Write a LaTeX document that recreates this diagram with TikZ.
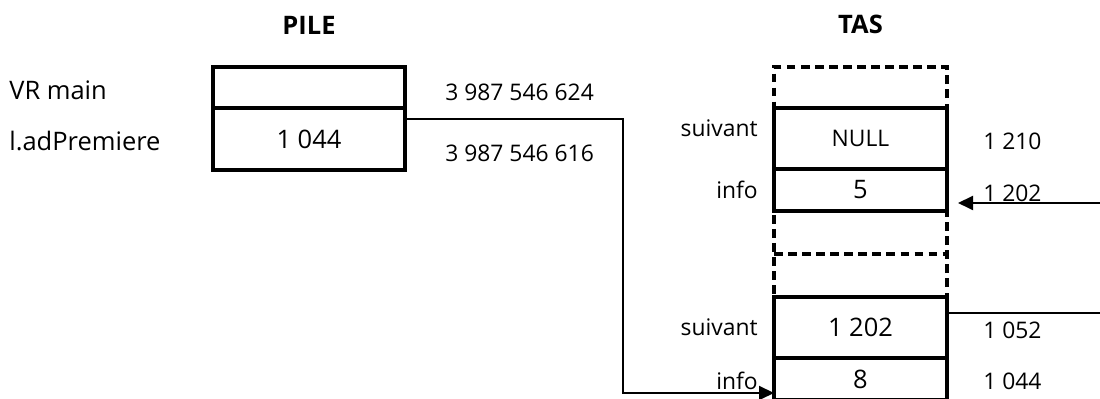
\documentclass[tikz,border=0pt]{standalone}
\usepackage{fontspec}
\setmainfont{Open Sans}
\usetikzlibrary{arrows.meta,positioning}

\begin{document}
\begin{tikzpicture}[node distance=0pt, auto, >={Triangle[length=0.3cm,width=0.28cm]},
    cell/.style={rectangle, draw, line width=1.8pt, outer sep=0pt, inner sep=0pt, font=\fontsize{14.5}{17}\selectfont},
    pilecell/.style={cell, minimum width=3.84cm},
    tascell/.style={cell, minimum width=3.46cm},
    freecell/.style={tascell, dash pattern=on 5pt off 3pt},
    biglbl/.style={inner sep=0pt, font=\fontsize{14.5}{17}\selectfont},
    lbl/.style={inner sep=0pt, font=\fontsize{13}{15}\selectfont},
    title/.style={inner sep=0pt, font=\fontsize{14.5}{17}\selectfont\bfseries},
    link/.style={line width=1.1pt}]
    \useasboundingbox (0,0) rectangle (22,7.98);

    % PILE
    \node[pilecell, minimum height=0.82cm] (vrmain) at (6.18,6.23) {};
    \node[pilecell, minimum height=1.24cm, below=of vrmain] (adprem) {1 044};
    \node[title, above=0.65cm of vrmain] (pile) {PILE};

    \node[biglbl, anchor=west] (vrlbl) at (0.18,6.18) {VR main};
    \node[biglbl, anchor=west] (adplbl) at (0.18,5.16) {l.adPremiere};
    \node[lbl, right=0.8cm of vrmain, yshift=-0.09cm] (addr1) {3 987 546 624};
    \node[lbl, right=0.8cm of adprem, yshift=-0.28cm] (addr2) {3 987 546 616};

    % TAS
    \node[freecell, minimum height=0.82cm] (free1) at (17.21,6.23) {};
    \node[tascell, minimum height=1.22cm, below=of free1, font=\fontsize{13}{15}\selectfont] (suiv1) {NULL};
    \node[tascell, minimum height=0.84cm, below=of suiv1] (info1) {5};
    \node[freecell, minimum height=1.72cm, below=of info1] (free2) {};
    \node[tascell, minimum height=1.22cm, below=of free2] (suiv2) {1 202};
    \node[tascell, minimum height=0.84cm, below=of suiv2] (info2) {8};
    \node[title, above=0.65cm of free1] (tas) {TAS};

    \node[lbl, left=0.32cm of suiv1, yshift=0.21cm] (suivlbl1) {suivant};
    \node[lbl, left=0.32cm of info1] (infolbl1) {info};
    \node[lbl, left=0.32cm of suiv2] (suivlbl2) {suivant};
    \node[lbl, left=0.32cm of info2, yshift=-0.04cm] (infolbl2) {info};
    \node[lbl, right=0.72cm of suiv1, yshift=-0.06cm] (addr3) {1 210};
    \node[lbl, right=0.72cm of info1, yshift=-0.06cm] (addr4) {1 202};
    \node[lbl, right=0.72cm of suiv2, yshift=-0.05cm] (addr5) {1 052};
    \node[lbl, right=0.72cm of info2, yshift=-0.04cm] (addr6) {1 044};

    % Arrows
    \coordinate (inlink) at (22,3.92);
    \coordinate (outlink) at (22,1.72);
    \draw[freecell, draw] (free2.west) -- (free2.east);
    \draw[link, ->] ([yshift=-0.22cm]adprem.north east) -- ++(4.36,0) |- ([yshift=-0.28cm]info2.west);
    \draw[link, ->] (inlink) -- ([xshift=0.22cm, yshift=-0.26cm]info1.east);
    \draw[link] ([yshift=-0.32cm]suiv2.north east) -- (outlink);
\end{tikzpicture}
\end{document}
